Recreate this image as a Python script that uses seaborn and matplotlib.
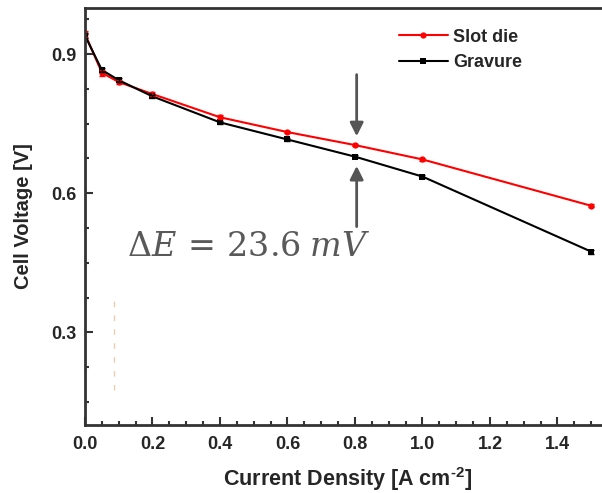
import numpy as np
import pandas as pd
import matplotlib
matplotlib.use("Agg")
import matplotlib.pyplot as plt
from matplotlib.ticker import MultipleLocator
import seaborn as sns

# Данные
current = [0.0, 0.05, 0.1, 0.2, 0.4, 0.6, 0.8, 1.0, 1.5]
slot_die = [0.944, 0.860, 0.840, 0.814, 0.764, 0.732, 0.704, 0.673, 0.573]
gravure = [0.940, 0.866, 0.844, 0.809, 0.753, 0.716, 0.679, 0.636, 0.474]
slot_err = [0.006, 0.006, 0.005, 0.004, 0.004, 0.003, 0.003, 0.004, 0.003]
grav_err = [0.005, 0.005, 0.004, 0.004, 0.003, 0.003, 0.003, 0.003, 0.004]
series_names = ["Slot die", "Gravure"]

df = pd.DataFrame({
    "x": current * 2,
    "y": slot_die + gravure,
    "method": [series_names[0]] * len(current) + [series_names[1]] * len(current),
})

sns.set_style("ticks")
plt.rcParams["font.family"] = ["Liberation Sans", "DejaVu Sans"]
plt.rcParams["mathtext.fontset"] = "custom"
plt.rcParams["mathtext.rm"] = "Liberation Sans:bold"
plt.rcParams["mathtext.it"] = "Liberation Sans:bold"
plt.rcParams["mathtext.bf"] = "Liberation Sans:bold"

fig = plt.figure(figsize=(6.02, 4.93), dpi=100)
ax = fig.add_axes([0.1412, 0.138, 0.8588, 0.846])

palette = {"Slot die": "#ff0000", "Gravure": "#000000"}
markers = {"Slot die": "o", "Gravure": "s"}
sns.lineplot(data=df, x="x", y="y", hue="method", style="method", palette=palette,
             markers=markers, dashes=False, markersize=4.5, linewidth=1.5,
             markeredgewidth=0, ax=ax)

# планки погрешностей
ax.errorbar(current, slot_die, yerr=slot_err, fmt="none", ecolor="#ff0000", elinewidth=1, capsize=2)
ax.errorbar(current, gravure, yerr=grav_err, fmt="none", ecolor="#000000", elinewidth=1, capsize=2)

# стрелки и подпись
arrow_kw = dict(arrowstyle="-|>,head_width=0.4,head_length=0.8", color="#555555", lw=2)
ax.annotate("", xy=(0.805, 0.717), xytext=(0.805, 0.862), arrowprops=arrow_kw)
ax.annotate("", xy=(0.805, 0.665), xytext=(0.805, 0.522), arrowprops=arrow_kw)
ax.text(0.125, 0.482, r"$\Delta E\,=\,23.6\;mV$", fontsize=24, color="#595959",
        va="center", math_fontfamily="dejavuserif")

# бледная пунктирная линия (артефакт оригинала)
ax.plot([0.086, 0.086], [0.175, 0.37], ls=(0, (4, 6)), color="#e0b890", lw=1, alpha=0.7)

ax.set_xlim(0, 1.532)
ax.set_ylim(0.1, 1.0)
ax.xaxis.set_minor_locator(MultipleLocator(0.05))
ax.yaxis.set_minor_locator(MultipleLocator(0.075))
ax.set_yticks([0.3, 0.6, 0.9])
ax.set_xticks([0.0, 0.2, 0.4, 0.6, 0.8, 1.0, 1.2, 1.4])
ax.tick_params(which="both", direction="in", width=1.5, color="#333333")
ax.tick_params(which="major", length=6, labelsize=13)
ax.tick_params(which="minor", length=3)
ax.tick_params(axis="x", which="major", pad=8)
ax.tick_params(axis="y", which="major", pad=6)
for lab in ax.get_xticklabels() + ax.get_yticklabels():
    lab.set_fontweight("bold")

for s in ["left", "bottom", "top"]:
    ax.spines[s].set_linewidth(2)
    ax.spines[s].set_color("#333333")
ax.spines["right"].set_visible(False)

ax.set_xlabel(r"Current Density [A cm$^{\text{-}2}$]", fontsize=15.5, fontweight="bold")
ax.set_ylabel("Cell Voltage [V]", fontsize=14.5, fontweight="bold")
ax.xaxis.set_label_coords(0.508, -0.097)
ax.yaxis.set_label_coords(-0.1, 0.5)

leg = ax.legend(loc="upper left", bbox_to_anchor=(0.607, 0.95), frameon=False,
                handlelength=2.7, handletextpad=0.3, labelspacing=0.45,
                borderpad=0, borderaxespad=0, prop={"weight": "bold", "size": 13})

fig.savefig("out.png", dpi=100)
